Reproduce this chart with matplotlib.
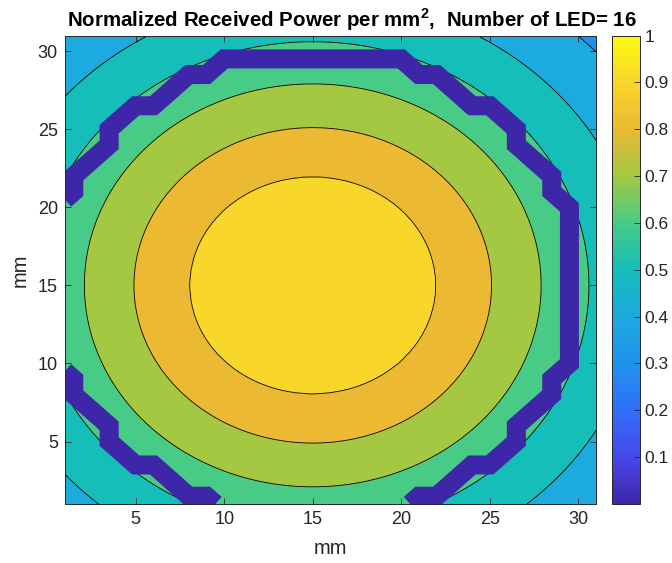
import matplotlib

matplotlib.use('Agg')

import matplotlib.pyplot as plt
import numpy as np
from matplotlib.cm import ScalarMappable
from matplotlib.colors import LinearSegmentedColormap, Normalize


plt.rcParams['font.family'] = ['Liberation Sans', 'DejaVu Sans']
plt.rcParams['mathtext.fontset'] = 'custom'
plt.rcParams['mathtext.rm'] = 'Liberation Sans'
plt.rcParams['mathtext.bf'] = 'Liberation Sans:bold'

# received power: level of each contour ring and its
# radius (mm) around the centre of the LED array
CENTER_X = 15.0
CENTER_Y = 15.0
RING_RADIUS = [0.0, 6.95, 10.1, 12.9, 15.6, 18.5, 21.9, 23.5]
RING_POWER = [1.0, 0.9, 0.8, 0.7, 0.6, 0.5, 0.4, 0.36]

FILL_LEVELS = [0.0, 0.1, 0.2, 0.3, 0.4, 0.5, 0.6, 0.7, 0.8, 0.9, 1.0]
LINE_LEVELS = [0.4, 0.5, 0.6, 0.7, 0.8, 0.9]

# outline of the LED ring (mm)
LED_UPPER_X = [1, 1.5, 1.5, 3.5, 3.5, 5, 6, 8, 9, 10, 20, 21, 22, 24, 25,
               26.5, 26.5, 28.5, 28.5, 29.5, 29.5, 28.5, 28.5, 26.5, 26.5,
               25, 24, 22, 21, 20.5]
LED_UPPER_Y = [20.5, 21, 22, 24, 25, 26.5, 26.5, 28.5, 28.5, 29.5, 29.5,
               28.5, 28.5, 26.5, 26.5, 25, 24, 22, 21, 20, 10, 9, 8, 6, 5,
               3.5, 3.5, 1.5, 1.5, 1]
LED_LOWER_X = [1, 1.5, 1.5, 3.5, 3.5, 5, 6, 8, 9, 9.5]
LED_LOWER_Y = [9.5, 9, 8, 6, 5, 3.5, 3.5, 1.5, 1.5, 1]

AXIS_TICKS = [5, 10, 15, 20, 25, 30]
CBAR_TICKS = [0.1, 0.2, 0.3, 0.4, 0.5, 0.6, 0.7, 0.8, 0.9, 1.0]
N_LED = 16

PARULA_COLORS = [
    (62, 38, 168), (71, 72, 236), (47, 112, 250), (32, 146, 238),
    (28, 170, 223), (20, 190, 185), (72, 203, 135), (163, 200, 66),
    (235, 185, 50), (249, 213, 43), (249, 251, 14),
]
parula = LinearSegmentedColormap.from_list(
    'parula', [tuple(c / 255 for c in rgb) for rgb in PARULA_COLORS]
)
TEXT_COLOR = '#262626'


def build_field():
    x = np.linspace(1, 31, 401)
    y = np.linspace(1, 31, 401)
    X, Y = np.meshgrid(x, y)
    R = np.hypot(X - CENTER_X, Y - CENTER_Y)
    Z = np.interp(R, RING_RADIUS, RING_POWER)
    return X, Y, Z


def main():
    fig = plt.figure(figsize=(6.72, 5.63), dpi=100)
    ax = fig.add_axes([64.9 / 672, 59 / 563, 531.1 / 672, 468.5 / 563])
    cax = fig.add_axes([611.7 / 672, 59 / 563, 28.3 / 672, 468.5 / 563])

    X, Y, Z = build_field()
    band_colors = [parula(level) for level in FILL_LEVELS[:-1]]
    ax.contourf(X, Y, Z, levels=FILL_LEVELS, colors=band_colors)
    ax.contour(X, Y, Z, levels=LINE_LEVELS, colors='black', linewidths=0.6)

    ring_color = parula(0.0)
    for xs, ys in ((LED_UPPER_X, LED_UPPER_Y), (LED_LOWER_X, LED_LOWER_Y)):
        ax.plot(xs, ys, color=ring_color, linewidth=13.7,
                solid_joinstyle='miter', solid_capstyle='butt')

    ax.set_xlim(1, 31)
    ax.set_ylim(1, 31)
    ax.set_xticks(AXIS_TICKS)
    ax.set_yticks(AXIS_TICKS)
    ax.tick_params(direction='in', length=4, width=0.6, top=True, right=True,
                   labelsize=13, colors=TEXT_COLOR, pad=5)
    for spine in ax.spines.values():
        spine.set_color(TEXT_COLOR)
        spine.set_linewidth(0.7)

    cbar = fig.colorbar(ScalarMappable(norm=Normalize(0, 1), cmap=parula),
                        cax=cax, ticks=CBAR_TICKS)
    cbar.ax.set_yticklabels([f'{t:g}' for t in CBAR_TICKS])
    cbar.ax.tick_params(direction='in', length=4, width=0.6, labelsize=12.5,
                        colors=TEXT_COLOR, pad=3)
    cbar.outline.set_edgecolor(TEXT_COLOR)
    cbar.outline.set_linewidth(0.7)

    fig.text(352 / 672, 1 - 27 / 563,
             r'Normalized Received Power per mm$^{\mathbf{2}}$,  '
             f'Number of LED= {N_LED}',
             ha='center', va='baseline', fontsize=14.8, fontweight='bold',
             color='black')
    fig.text(330 / 672, 1 - 549 / 563, 'mm', ha='center', va='center',
             fontsize=14.5, color=TEXT_COLOR)
    fig.text(20 / 672, 1 - 270 / 563, 'mm', ha='center', va='center',
             rotation=90, fontsize=14.5, color=TEXT_COLOR)

    fig.savefig('out.png', dpi=100)
    plt.close(fig)


if __name__ == '__main__':
    main()
